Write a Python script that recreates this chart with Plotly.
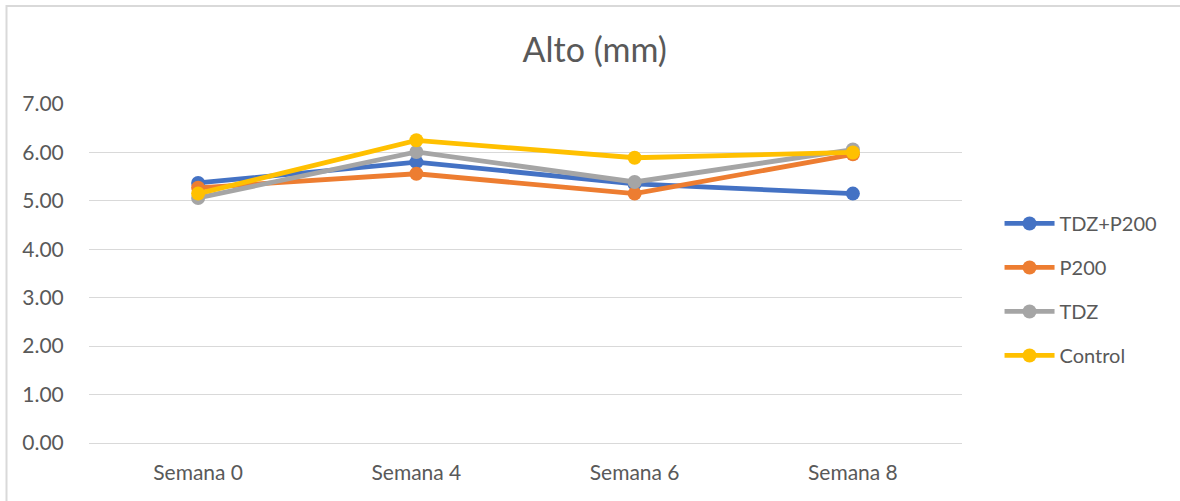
import plotly.graph_objects as go

# Weekly height measurements (mm) per treatment
semanas = ["Semana 0", "Semana 4", "Semana 6", "Semana 8"]
tdz_p200 = [5.37, 5.80, 5.35, 5.15]
p200 = [5.27, 5.56, 5.15, 5.96]
tdz = [5.06, 6.01, 5.39, 6.06]
control = [5.15, 6.25, 5.89, 6.00]

series = [
    ("TDZ+P200", tdz_p200, "#4472C4"),
    ("P200", p200, "#ED7D31"),
    ("TDZ", tdz, "#A5A5A5"),
    ("Control", control, "#FFC000"),
]

FONT = "Lato, 'Open Sans', sans-serif"
TEXT = "#595959"

fig = go.Figure()
for name, vals, color in series:
    fig.add_trace(go.Scatter(
        x=semanas, y=vals, name=name, mode="lines+markers",
        legendgroup=name,
        line=dict(color=color, width=4.8),
        marker=dict(color=color, size=14),
    ))

fig.update_layout(
    width=1180, height=501,
    paper_bgcolor="white", plot_bgcolor="white",
    margin=dict(l=89, r=218, t=104, b=58),
    font=dict(family=FONT, color=TEXT, size=21),
    title=dict(text="Alto (mm)", x=0.504, xanchor="center", y=0.9, yanchor="middle",
               font=dict(size=34, color=TEXT, family=FONT)),
    xaxis=dict(type="category", range=[-0.5, 3.5], showgrid=False,
               showline=False, ticks="", ticklabelstandoff=15,
               tickfont=dict(size=21, color=TEXT)),
    yaxis=dict(range=[0, 7], dtick=1, tickformat=".2f", showgrid=True,
               gridcolor="#D9D9D9", gridwidth=1.3, zeroline=True,
               zerolinecolor="#D9D9D9", zerolinewidth=1.3,
               ticks="outside", ticklen=20, tickcolor="rgba(0,0,0,0)",
               tickfont=dict(size=21, color=TEXT)),
    legend=dict(x=1.043, xanchor="left", y=0.453, yanchor="middle",
                font=dict(size=20, color=TEXT), tracegroupgap=15,
                itemwidth=50, bgcolor="rgba(0,0,0,0)"),
    showlegend=True,
    shapes=[dict(type="rect", xref="paper", yref="paper",
                 x0=-0.0945, x1=1.27, y0=-0.25, y1=1.289,
                 line=dict(color="#D9D9D9", width=2))],
)

fig.write_html("out.html")
